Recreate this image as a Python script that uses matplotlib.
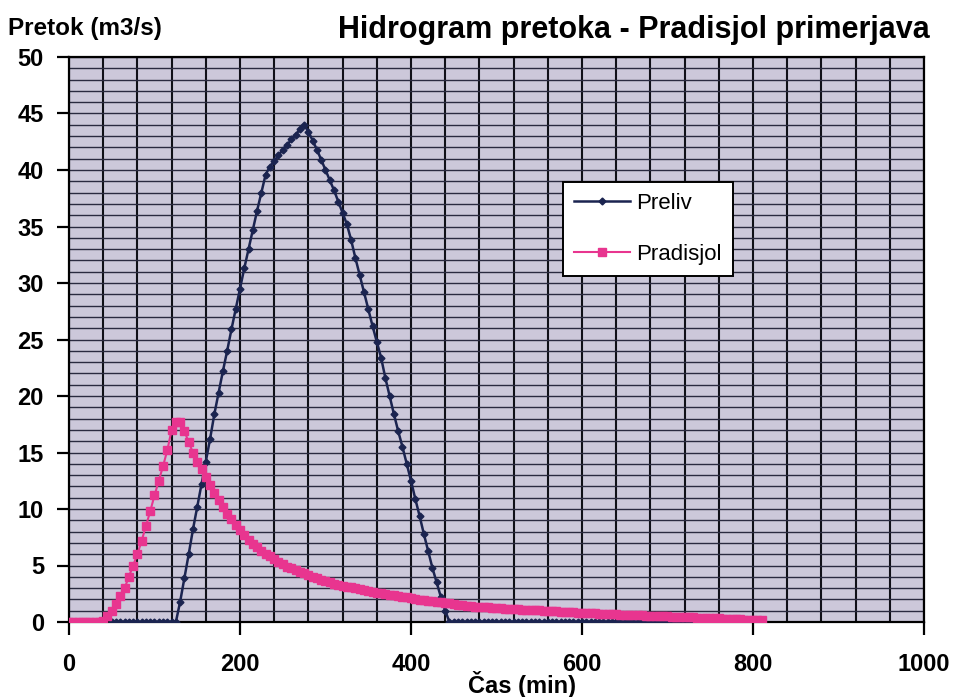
import numpy as np
import matplotlib
matplotlib.use("Agg")
import matplotlib.pyplot as plt
from matplotlib.ticker import MultipleLocator

# ---------------- data ----------------
time_step = 5  # min
pradisjol_start = 0
preliv_start = 50

pradisjol = [
    0, 0, 0, 0, 0, 0, 0, 0,
    0.1, 0.5, 1.0, 1.6, 2.3, 3.0, 4.0, 5.0, 6.0, 7.2,
    8.5, 9.8, 11.2, 12.5, 13.8, 15.2, 17.0, 17.7, 17.7, 16.9,
    15.9, 15.0, 14.2, 13.5, 12.8, 12.1, 11.4, 10.8, 10.2, 9.6,
    9.1, 8.6, 8.1, 7.7, 7.3, 6.9, 6.6, 6.3, 6.0, 5.8,
    5.55, 5.3, 5.1, 4.9, 4.75, 4.6, 4.45, 4.3, 4.15, 4.0,
    3.85, 3.7, 3.6, 3.5, 3.4, 3.3, 3.22, 3.14, 3.06, 2.98,
    2.9, 2.82, 2.75, 2.68, 2.61, 2.55, 2.48, 2.42, 2.36, 2.3,
    2.24, 2.17, 2.1, 2.04, 1.99, 1.94, 1.89, 1.84, 1.79, 1.74,
    1.69, 1.64, 1.59, 1.54, 1.49, 1.44, 1.4, 1.37, 1.34, 1.31,
    1.29, 1.26, 1.24, 1.22, 1.19, 1.17, 1.15, 1.12, 1.1, 1.08,
    1.06, 1.04, 1.02, 1.0, 0.98, 0.96, 0.94, 0.92, 0.9, 0.88,
    0.86, 0.84, 0.82, 0.8, 0.78, 0.76, 0.74, 0.72, 0.71, 0.69,
    0.67, 0.65, 0.64, 0.62, 0.61, 0.59, 0.58, 0.56, 0.55, 0.53,
    0.52, 0.5, 0.49, 0.47, 0.46, 0.44, 0.43, 0.41, 0.4, 0.38,
    0.37, 0.35, 0.34, 0.32, 0.31, 0.29, 0.28, 0.26, 0.25, 0.23,
    0.22, 0.21, 0.2, 0.19, 0.18,
]

preliv = [
    0, 0, 0, 0, 0, 0, 0, 0, 0, 0, 0, 0, 0, 0, 0, 0,
    1.8, 3.9, 6.0, 8.2, 10.2, 12.2, 14.2, 16.2, 18.4, 20.3,
    22.2, 24.0, 25.9, 27.7, 29.5, 31.3, 33.0, 34.7, 36.4, 38.0,
    39.6, 40.3, 40.8, 41.3, 41.8, 42.2, 42.7, 43.1, 43.6, 44.0,
    43.4, 42.6, 41.8, 40.9, 40.0, 39.1, 38.2, 37.2, 36.2, 35.2,
    33.8, 32.2, 30.7, 29.2, 27.7, 26.2, 24.8, 23.4, 21.6, 20.0,
    18.4, 16.9, 15.5, 14.0, 12.5, 10.9, 9.4, 7.8, 6.3, 4.8,
    3.5, 2.2, 1.0,
    0, 0, 0, 0, 0, 0, 0, 0, 0, 0, 0, 0, 0, 0, 0, 0, 0, 0,
    0, 0, 0, 0, 0, 0, 0, 0, 0, 0, 0, 0, 0, 0, 0, 0, 0, 0,
    0, 0, 0, 0, 0, 0, 0, 0, 0, 0, 0, 0, 0, 0, 0, 0, 0, 0,
    0, 0, 0, 0, 0, 0, 0, 0, 0, 0, 0, 0, 0, 0, 0, 0, 0, 0,
]

t_pradisjol = pradisjol_start + time_step * np.arange(len(pradisjol))
t_preliv = preliv_start + time_step * np.arange(len(preliv))

x_ticks = [0, 200, 400, 600, 800, 1000]
y_ticks = [0, 5, 10, 15, 20, 25, 30, 35, 40, 45, 50]

title = "Hidrogram pretoka - Pradisjol primerjava"
y_title = "Pretok (m3/s)"
x_title = "Čas (min)"

# ---------------- figure ----------------
plt.rcParams['font.family'] = ['Liberation Sans', 'DejaVu Sans']

fig = plt.figure(figsize=(9.54, 6.97), dpi=100)
ax = fig.add_axes([69/954, 1-622/697, (924-69)/954, (622-57)/697])
ax.set_facecolor('#ccc8da')

navy = '#1b2450'
pink = '#e8358f'

ax.plot(t_preliv, preliv, color=navy, lw=1.8, marker='D', ms=3.5,
        mfc=navy, mec=navy, label='Preliv', zorder=3)
ax.plot(t_pradisjol, pradisjol, color=pink, lw=1.5, marker='s', ms=6,
        mfc=pink, mec=pink, label='Pradisjol', zorder=4)

ax.set_xlim(0, 1000)
ax.set_ylim(0, 50)
ax.set_xticks(x_ticks)
ax.set_yticks(y_ticks)
ax.xaxis.set_minor_locator(MultipleLocator(40))
ax.yaxis.set_minor_locator(MultipleLocator(1))

ax.grid(which='both', axis='x', color='#101018', lw=1.5, zorder=1)
ax.grid(which='both', axis='y', color='#2a2a40', lw=1.0, zorder=1)
ax.set_axisbelow(True)

for s in ax.spines.values():
    s.set_color('black')
    s.set_linewidth(1.6)

ax.tick_params(axis='both', which='major', direction='out', length=9,
               width=1.6, color='black', labelsize=17)
ax.tick_params(axis='x', which='major', pad=13)
ax.tick_params(axis='y', which='major', pad=9)
ax.tick_params(which='minor', length=0)
for lab in ax.get_xticklabels() + ax.get_yticklabels():
    lab.set_fontweight('bold')

fig.text(930/954, 1-30/697, title, ha='right', va='center',
         fontsize=22, fontweight='bold')
fig.text(8/954, 1-28/697, y_title, ha='left', va='center',
         fontsize=17.5, fontweight='bold')
fig.text(522/954, 1-684/697, x_title, ha='center', va='center',
         fontsize=17, fontweight='bold')

leg = ax.legend(loc='upper left', bbox_to_anchor=((563-69)/855, (622-182)/565),
                borderaxespad=0,
                fontsize=16, frameon=True, fancybox=False, framealpha=1,
                edgecolor='black', handlelength=2.5, borderpad=0.5,
                labelspacing=1.35, handletextpad=0.3)
leg.get_frame().set_linewidth(1.4)
leg.set_zorder(10)

fig.savefig('out.png', dpi=100)
